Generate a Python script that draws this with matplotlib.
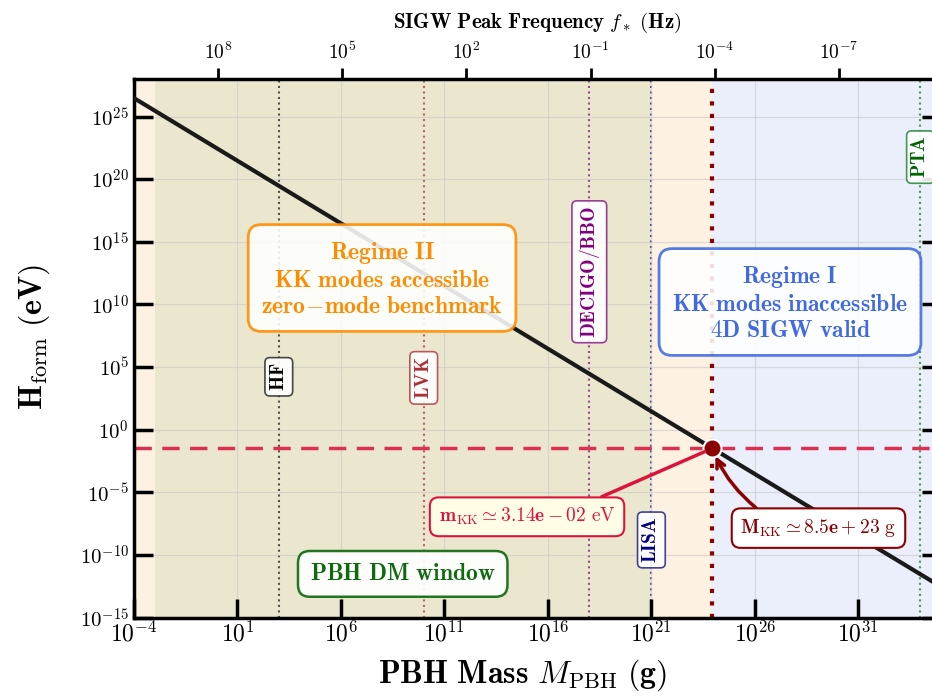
import matplotlib
matplotlib.use("Agg")
import matplotlib.pyplot as plt
import matplotlib.ticker as mticker
import numpy as np

plt.rcParams['mathtext.fontset'] = 'cm'
plt.rcParams['font.family'] = 'serif'
plt.rcParams['font.serif'] = ['cmr10', 'DejaVu Serif']
plt.rcParams['axes.unicode_minus'] = False

# data
mass_line = [1e-4, 1e35]          # g
h_line = [3.0e26, 2.8e-13]        # eV
m_kk = 3.14e-2                    # eV
M_kk = 8.5e23                     # g
f_norm = 1.08e8                   # f_* = f_norm / sqrt(M)
dm_window = [1e-3, 1e21]
det_names = ['HF', 'LVK', 'DECIGO/BBO', 'LISA', 'PTA']
det_mass = [1e3, 1e10, 1e18, 1e21, 1e34]
det_colors = ['#333333', '#b5474b', '#8e2a8e', '#2e2e8c', '#2f8a3f']
det_text = ['black', '#a8323a', 'purple', 'navy', 'darkgreen']
det_ypos = [0.447, 0.445, 0.642, 0.144, 0.855]
xticks_bottom = [1e-4, 1e1, 1e6, 1e11, 1e16, 1e21, 1e26, 1e31]
yticks = [1e-15, 1e-10, 1e-5, 1e0, 1e5, 1e10, 1e15, 1e20, 1e25]
fticks = [1e8, 1e5, 1e2, 1e-1, 1e-4, 1e-7]

fig = plt.figure(figsize=(9.32, 6.96), dpi=100)
ax = fig.add_axes([133.9/932, 1 - 617.5/696, 807.3/932, 538.5/696])
ax.set_xscale('log')
ax.set_yscale('log')
ax.set_xlim(1e-4, 1e35)
ax.set_ylim(1e-15, 1e28)

# shaded regimes
ax.axvspan(1e-4, M_kk, color='#fdf1e2', lw=0, zorder=0)
ax.axvspan(M_kk, 1e35, color='#eaeffb', lw=0, zorder=0)
ax.axvspan(dm_window[0], dm_window[1], color='#d6dbb8', alpha=0.45, lw=0, zorder=0)

ax.grid(True, which='major', color='#c8c8c8', lw=0.9, alpha=0.6, zorder=0.5)

# detectors
for name, m, c, tc, yp in zip(det_names, det_mass, det_colors, det_text, det_ypos):
    ax.axvline(m, color=c, ls=':', lw=1.5, alpha=0.85, zorder=1)
    ax.text(m, yp, r'$\mathbf{%s}$' % name, transform=ax.get_xaxis_transform(),
            rotation=90, ha='center', va='center', color=tc, fontsize=14, zorder=5,
            bbox=dict(boxstyle='round,pad=0.25', fc='white', ec=c, lw=1.2, alpha=0.9))

ax.axvline(M_kk, color='#8b0000', ls=(0, (1, 2)), lw=3, zorder=2)
ax.axhline(m_kk, color='#dc3050', ls=(0, (5, 3)), lw=2.5, zorder=2)

ax.plot(mass_line, h_line, color='#1a1a1a', lw=3, zorder=3)
ax.plot([M_kk], [m_kk], 'o', ms=13, color='#8b0000', mec='white', mew=1.5, zorder=6)

# annotations
ax.annotate(r'$\mathbf{m}_{\rm KK} \simeq 3.14\mathbf{e}-02\ \mathrm{eV}$',
            xy=(M_kk, m_kk), xycoords='data', xytext=(0.487, 0.187), textcoords='axes fraction',
            ha='center', va='center', fontsize=14, color='#dc143c', zorder=7,
            bbox=dict(boxstyle='round,pad=0.45', fc='#fffde6', ec='#dc143c', lw=1.5),
            arrowprops=dict(arrowstyle='-', color='#dc143c', lw=2.5, shrinkA=0, shrinkB=6,
                            relpos=(0.8, 1.0)))
ax.annotate(r'$\mathbf{M}_{\rm KK} \simeq 8.5\mathbf{e}+23\ \mathrm{g}$',
            xy=(M_kk, m_kk), xycoords='data', xytext=(0.848, 0.166), textcoords='axes fraction',
            ha='center', va='center', fontsize=14, color='#8b0000', zorder=7,
            bbox=dict(boxstyle='round,pad=0.45', fc='white', ec='#8b0000', lw=1.5),
            arrowprops=dict(arrowstyle='->', color='#8b0000', lw=2.5, shrinkA=0, shrinkB=6,
                            connectionstyle='arc3,rad=-0.15', mutation_scale=15,
                            relpos=(0.18, 1.0)))

ax.text(0.3074, 0.6286, '$\\mathbf{Regime\\ II}$\n$\\mathbf{KK\\ modes\\ accessible}$\n'
        '$\\mathbf{zero\\!-\\!mode\\ benchmark}$',
        transform=ax.transAxes, ha='center', va='center', fontsize=17, color='#ff8c00',
        linespacing=1.25, zorder=7,
        bbox=dict(boxstyle='round,pad=0.55', fc='white', ec='#ff8c00', lw=2, alpha=0.88))
ax.text(0.8127, 0.584, '$\\mathbf{Regime\\ I}$\n$\\mathbf{KK\\ modes\\ inaccessible}$\n'
        '$\\mathbf{4D\\ SIGW\\ valid}$',
        transform=ax.transAxes, ha='center', va='center', fontsize=17, color='#4169e1',
        linespacing=1.25, zorder=7,
        bbox=dict(boxstyle='round,pad=0.55', fc='white', ec='#4169e1', lw=2, alpha=0.88))
ax.text(0.333, 0.081, r'$\mathbf{PBH\ DM\ window}$',
        transform=ax.transAxes, ha='center', va='center', fontsize=17, color='#106b10', zorder=7,
        bbox=dict(boxstyle='round,pad=0.5', fc='white', ec='#106b10', lw=1.8, alpha=0.92))

def logfmt(v, pos):
    return r'$10^{%d}$' % int(round(np.log10(v)))

ax.xaxis.set_major_locator(mticker.FixedLocator(xticks_bottom))
ax.yaxis.set_major_locator(mticker.FixedLocator(yticks))
ax.xaxis.set_minor_locator(mticker.NullLocator())
ax.yaxis.set_minor_locator(mticker.NullLocator())
ax.xaxis.set_major_formatter(mticker.FuncFormatter(logfmt))
ax.yaxis.set_major_formatter(mticker.FuncFormatter(logfmt))
ax.tick_params(axis='both', which='major', direction='in', length=14, width=2.5,
               right=True, top=False)
ax.tick_params(axis='x', labelsize=17, pad=3)
ax.tick_params(axis='y', labelsize=15)
for s in ax.spines.values():
    s.set_linewidth(2.5)

ax.set_xlabel(r'$\mathbf{PBH\ Mass}\ M_{\rm PBH}\ (\mathbf{g})$', fontsize=23)
ax.xaxis.set_label_coords(0.481, -0.075)
ax.set_ylabel(r'$\mathbf{H}_{\rm form}\ (\mathbf{eV})$', fontsize=23)
ax.yaxis.set_label_coords(-0.1015, 0.52)

# top axis: peak frequency
sec = ax.secondary_xaxis('top', functions=(lambda m: f_norm / np.sqrt(np.clip(m, 1e-300, None)),
                                           lambda f: (f_norm / np.clip(f, 1e-300, None)) ** 2))
sec.xaxis.set_major_locator(mticker.FixedLocator(fticks))
sec.xaxis.set_minor_locator(mticker.NullLocator())
sec.xaxis.set_major_formatter(mticker.FuncFormatter(logfmt))
sec.tick_params(direction='out', length=8, width=2, labelsize=14)
sec.set_xlabel(r'$\mathbf{SIGW\ Peak\ Frequency}\ f_*\ (\mathbf{Hz})$', fontsize=15, labelpad=10)

fig.savefig('out.png', dpi=100)
